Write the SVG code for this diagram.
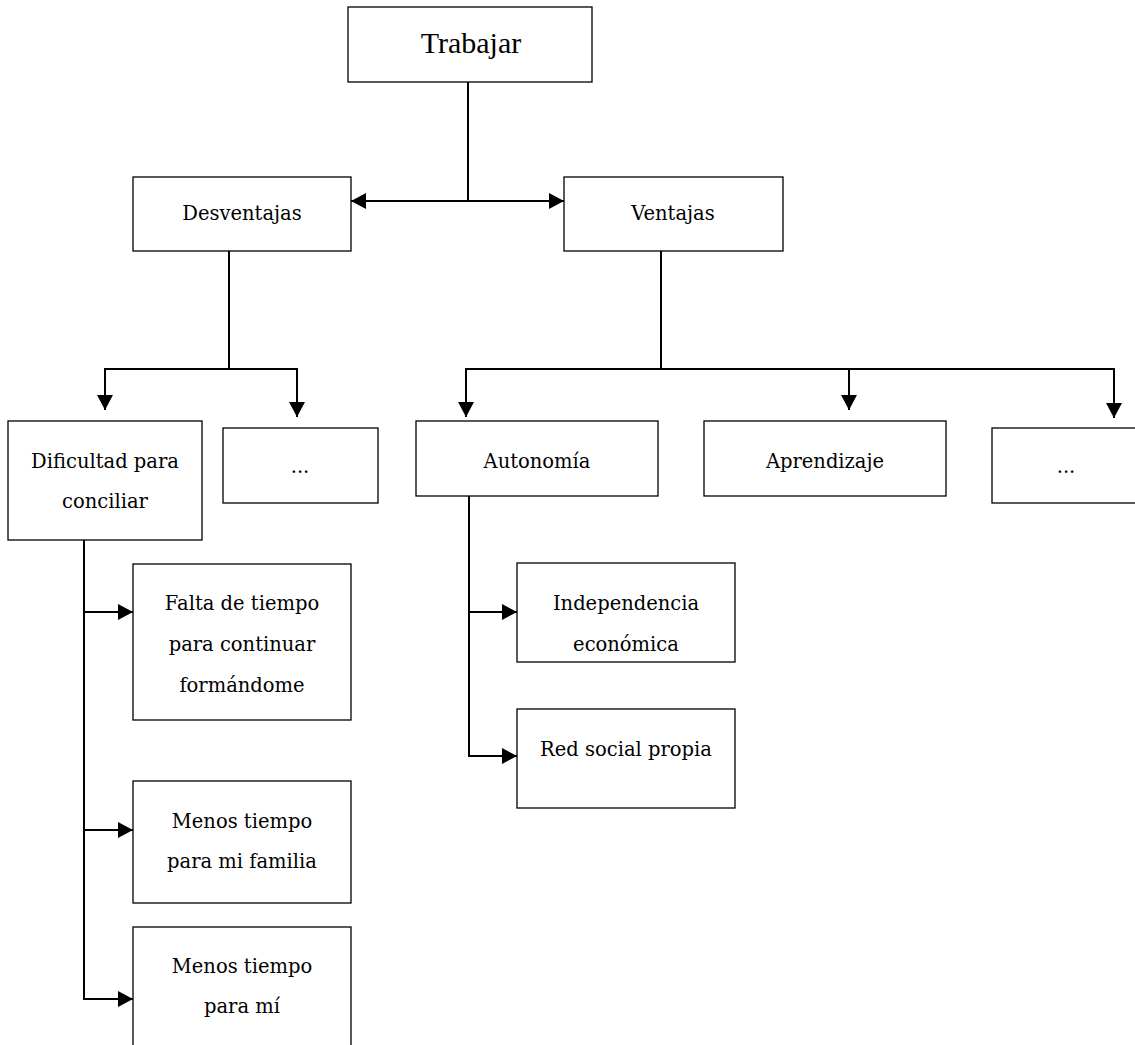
<svg xmlns="http://www.w3.org/2000/svg" width="1135" height="1045" viewBox="0 0 1135 1045">
  <style>
    .box { fill: #ffffff; stroke: #000; stroke-width: 1.3; }
    .lbl { font-family: "DejaVu Serif", "Liberation Serif", serif; font-size: 19.5px; fill: #000; text-anchor: middle; }
    .title { font-family: "Liberation Serif", "DejaVu Serif", serif; font-size: 30px; fill: #000; text-anchor: middle; }
    .wire { fill: none; stroke: #000; stroke-width: 2; }
    .arr { marker-end: url(#head); }
  </style>
  <defs>
    <marker id="head" markerUnits="userSpaceOnUse" markerWidth="16" markerHeight="16" refX="15" refY="8" orient="auto">
      <path d="M0,0 L15,8 L0,16 Z" fill="#000"/>
    </marker>
  </defs>

  <rect width="1135" height="1045" fill="#ffffff"/>

  <!-- connectors -->
  <g id="connectors">
    <path class="wire" d="M468,82 V201"/>
    <path class="wire arr" d="M468,201 H351"/>
    <path class="wire arr" d="M468,201 H564"/>

    <path class="wire" d="M229,251 V369 M105,369 H297"/>
    <path class="wire arr" d="M105,368 V410"/>
    <path class="wire arr" d="M297,368 V417"/>

    <path class="wire" d="M661,251 V369 M466,369 H1114"/>
    <path class="wire arr" d="M466,368 V417"/>
    <path class="wire arr" d="M849,368 V410"/>
    <path class="wire arr" d="M1114,368 V418"/>

    <path class="wire" d="M84,540 V999"/>
    <path class="wire arr" d="M83,612 H133"/>
    <path class="wire arr" d="M83,830 H133"/>
    <path class="wire arr" d="M83,999 H133"/>

    <path class="wire" d="M469,496 V756"/>
    <path class="wire arr" d="M468,612 H517"/>
    <path class="wire arr" d="M468,756 H517"/>
  </g>

  <!-- nodes -->
  <g id="trabajar">
    <rect class="box" x="348" y="7" width="244" height="75"/>
    <text class="title" x="471" y="53">Trabajar</text>
  </g>
  <g id="desventajas">
    <rect class="box" x="133" y="177" width="218" height="74"/>
    <text class="lbl" x="242" y="220">Desventajas</text>
  </g>
  <g id="ventajas">
    <rect class="box" x="564" y="177" width="219" height="74"/>
    <text class="lbl" x="673" y="220">Ventajas</text>
  </g>
  <g id="dificultad">
    <rect class="box" x="8" y="421" width="194" height="119"/>
    <text class="lbl" x="105" y="468">Dificultad para</text>
    <text class="lbl" x="105" y="508">conciliar</text>
  </g>
  <g id="desventajas-otros">
    <rect class="box" x="223" y="428" width="155" height="75"/>
    <text class="lbl" x="300" y="473">...</text>
  </g>
  <g id="autonomia">
    <rect class="box" x="416" y="421" width="242" height="75"/>
    <text class="lbl" x="537" y="468">Autonomía</text>
  </g>
  <g id="aprendizaje">
    <rect class="box" x="704" y="421" width="242" height="75"/>
    <text class="lbl" x="825" y="468">Aprendizaje</text>
  </g>
  <g id="ventajas-otros">
    <rect class="box" x="992" y="428" width="155" height="75"/>
    <text class="lbl" x="1066" y="473">...</text>
  </g>
  <g id="falta-tiempo">
    <rect class="box" x="133" y="564" width="218" height="156"/>
    <text class="lbl" x="242" y="610">Falta de tiempo</text>
    <text class="lbl" x="242" y="651">para continuar</text>
    <text class="lbl" x="242" y="692">formándome</text>
  </g>
  <g id="menos-familia">
    <rect class="box" x="133" y="781" width="218" height="122"/>
    <text class="lbl" x="242" y="828">Menos tiempo</text>
    <text class="lbl" x="242" y="868">para mi familia</text>
  </g>
  <g id="menos-mi">
    <rect class="box" x="133" y="927" width="218" height="130"/>
    <text class="lbl" x="242" y="973">Menos tiempo</text>
    <text class="lbl" x="242" y="1013">para mí</text>
  </g>
  <g id="independencia">
    <rect class="box" x="517" y="563" width="218" height="99"/>
    <text class="lbl" x="626" y="610">Independencia</text>
    <text class="lbl" x="626" y="651">económica</text>
  </g>
  <g id="red-social">
    <rect class="box" x="517" y="709" width="218" height="99"/>
    <text class="lbl" x="626" y="756">Red social propia</text>
  </g>
</svg>
